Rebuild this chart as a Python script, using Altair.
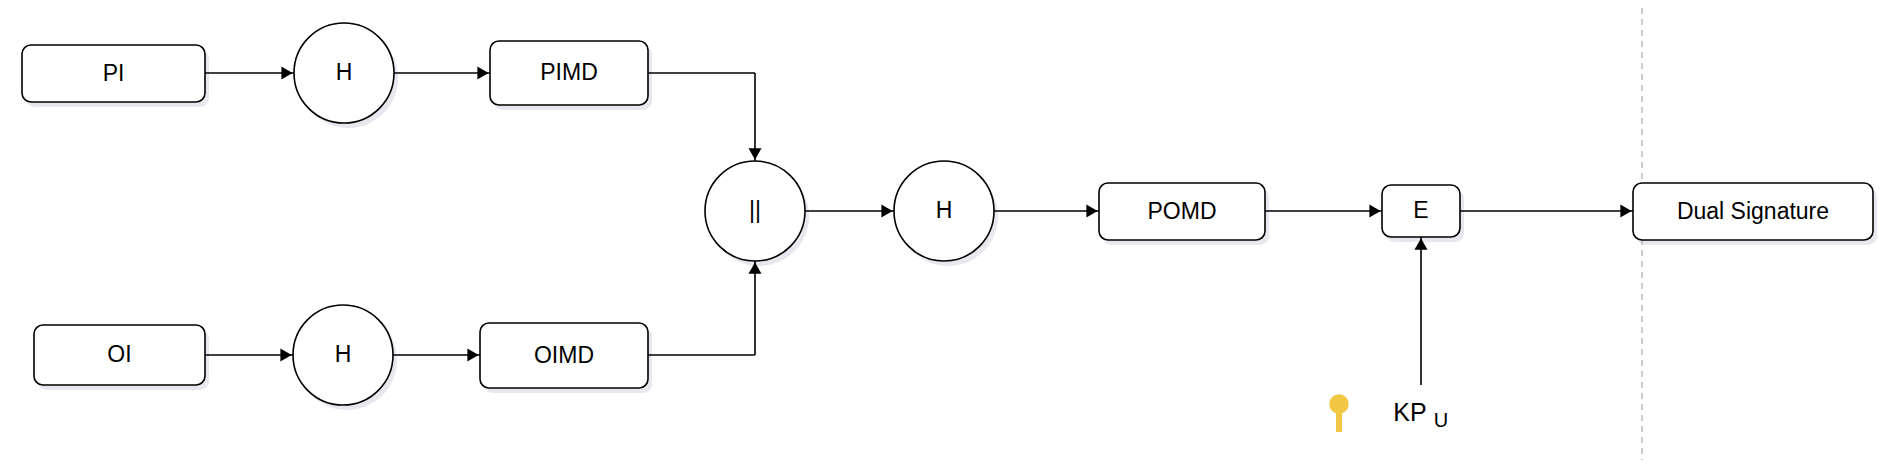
import altair as alt
import pandas as pd

# boxes: label, x1, x2, y1, y2
box_labels = ["PI", "PIMD", "POMD", "E", "Dual Signature", "OI", "OIMD"]
box_x1 = [22, 490, 1099, 1382, 1633, 34, 480]
box_x2 = [205, 648, 1265, 1460, 1873, 205, 648]
box_y1 = [45, 41, 183, 185, 183, 325, 323]
box_y2 = [102, 105, 240, 237, 240, 385, 388]

circle_labels = ["H", "||", "H", "H"]
circle_x = [344, 755, 944, 343]
circle_y = [73, 211, 211, 355]

# connector segments
seg_x1 = [205, 394, 648, 755, 205, 393, 648, 755, 805, 994, 1265, 1460, 1421]
seg_y1 = [73, 73, 73, 73, 355, 355, 355, 355, 211, 211, 211, 211, 385]
seg_x2 = [294, 490, 755, 755, 293, 480, 755, 755, 894, 1099, 1382, 1633, 1421]
seg_y2 = [73, 73, 73, 161, 355, 355, 355, 261, 211, 211, 211, 211, 237]

# arrow heads: x, y, direction
head_x = [287, 483, 755, 286, 473, 755, 887, 1092, 1375, 1626, 1421]
head_y = [73, 73, 154, 355, 355, 268, 211, 211, 211, 211, 244]
head_shape = ["triangle-right"] * 2 + ["triangle-down"] + ["triangle-right"] * 2 + ["triangle-up"] + ["triangle-right"] * 4 + ["triangle-up"]

W, H = 1872, 452
xs = alt.Scale(domain=[8, 8 + W], nice=False, zero=False)
ys = alt.Scale(domain=[8, 8 + H], nice=False, zero=False, reverse=True)
X = lambda f: alt.X(f, scale=xs, axis=None)
Y = lambda f: alt.Y(f, scale=ys, axis=None)

boxes = pd.DataFrame({"label": box_labels, "x1": box_x1, "x2": box_x2, "y1": box_y1, "y2": box_y2})
boxes["cx"] = (boxes.x1 + boxes.x2) / 2
boxes["cy"] = (boxes.y1 + boxes.y2) / 2
boxes["sx1"] = boxes.x1 + 4; boxes["sx2"] = boxes.x2 + 4
boxes["sy1"] = boxes.y1 + 5; boxes["sy2"] = boxes.y2 + 5
circles = pd.DataFrame({"label": circle_labels, "x": circle_x, "y": circle_y})
circles["sx"] = circles.x + 4; circles["sy"] = circles.y + 5
segs = pd.DataFrame({"x1": seg_x1, "y1": seg_y1, "x2": seg_x2, "y2": seg_y2})
heads = pd.DataFrame({"x": head_x, "y": head_y, "shape": head_shape})

vline = pd.DataFrame({"x": [1642], "y1": [8], "y2": [460]})

box_shadow = alt.Chart(boxes).mark_rect(cornerRadius=9, color="#9aa0c0", opacity=0.25).encode(
    x=X("sx1:Q"), x2="sx2:Q", y=Y("sy1:Q"), y2="sy2:Q")
circ_shadow = alt.Chart(circles).mark_point(shape="circle", size=10000, filled=True, color="#9aa0c0", opacity=0.25).encode(
    x=X("sx:Q"), y=Y("sy:Q"))
dash = alt.Chart(vline).mark_rule(color="#bbbbbb", strokeDash=[6, 5], strokeWidth=1.5).encode(
    x=X("x:Q"), y=Y("y1:Q"), y2="y2:Q")
lines = alt.Chart(segs).mark_rule(color="black", strokeWidth=1.6).encode(
    x=X("x1:Q"), y=Y("y1:Q"), x2="x2:Q", y2="y2:Q")
rects = alt.Chart(boxes).mark_rect(cornerRadius=9, fill="white", stroke="black", strokeWidth=1.6).encode(
    x=X("x1:Q"), x2="x2:Q", y=Y("y1:Q"), y2="y2:Q")
circ = alt.Chart(circles).mark_point(shape="circle", size=10000, filled=True, fill="white", stroke="black", strokeWidth=1.6, opacity=1).encode(
    x=X("x:Q"), y=Y("y:Q"))
btext = alt.Chart(boxes).mark_text(font="Liberation Sans", fontSize=23, color="black").encode(
    x=X("cx:Q"), y=Y("cy:Q"), text="label:N")
ctext = alt.Chart(circles).mark_text(font="Liberation Sans", fontSize=23, color="black").encode(
    x=X("x:Q"), y=Y("y:Q"), text="label:N")
arrows = alt.Chart(heads).mark_point(filled=True, color="black", size=170, opacity=1).encode(
    x=X("x:Q"), y=Y("y:Q"),
    shape=alt.Shape("shape:N", scale=None, legend=None))

kp = pd.DataFrame({"t": ["KP", "U"], "x": [1410, 1441], "y": [413, 421], "s": [25, 20]})
kptext = alt.Chart(kp).mark_text(font="Liberation Sans", color="black", align="center").encode(
    x=X("x:Q"), y=Y("y:Q"), text="t:N", size=alt.Size("s:Q", scale=None, legend=None))

key_head = pd.DataFrame({"x": [1339], "y": [404]})
key_stem = pd.DataFrame({"x": [1339], "y1": [404], "y2": [432]})
kstem = alt.Chart(key_stem).mark_rule(color="#F2C744", strokeWidth=6).encode(
    x=X("x:Q"), y=Y("y1:Q"), y2="y2:Q")
khead = alt.Chart(key_head).mark_point(shape="circle", filled=True, color="#F2C744", size=380, opacity=1).encode(
    x=X("x:Q"), y=Y("y:Q"))

chart = alt.layer(dash, box_shadow, circ_shadow, lines, rects, circ, btext, ctext, arrows, kptext, kstem, khead).properties(
    width=W, height=H, padding=0, autosize=alt.AutoSizeParams(type="none")
).configure_view(stroke=None)

chart.save("out.html", embed_options={"renderer": "svg", "actions": False})
